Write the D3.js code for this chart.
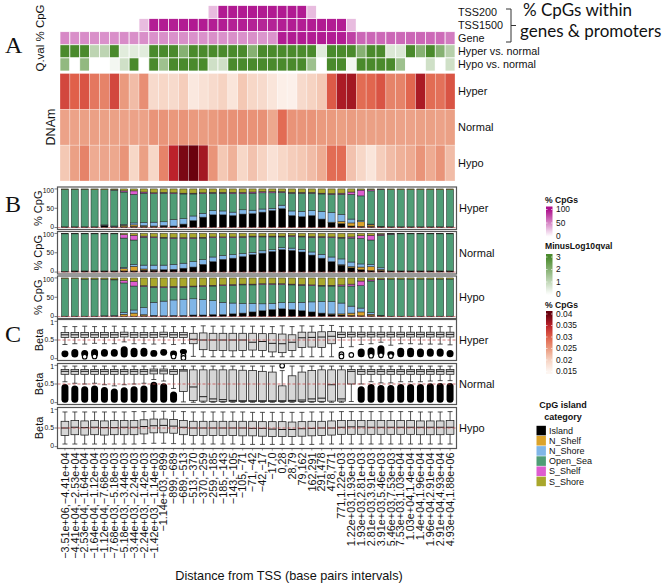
<!DOCTYPE html>
<html><head><meta charset="utf-8">
<script src="https://cdn.jsdelivr.net/npm/d3@7"></script>
<style>
body{margin:0;background:#fff}
svg{display:block}
text{font-family:"Liberation Sans",Arial,Helvetica,sans-serif;fill:#111}
</style></head>
<body><svg id="c" width="666" height="584"></svg>
<script>
// ---------------- DATA ----------------
const intervals = ["−3.51e+06,−4.41e+04","−4.41e+04,−2.53e+04","−2.53e+04,−1.64e+04","−1.64e+04,−1.12e+04","−1.12e+04,−7.68e+03","−7.68e+03,−5.18e+03","−5.18e+03,−3.44e+03","−3.44e+03,−2.24e+03","−2.24e+03,−1.42e+03","−1.42e+03,−1.14e+03","−1.14e+03,−899","−899,−689","−689,−513","−513,−370","−370,−259","−259,−185","−185,−143","−143,−105","−105,−71","−71,−42","−42,−17","−17,0","0,28","28,79","79,162","162,291","291,478","478,771","771,1.22e+03","1.22e+03,1.93e+03","1.93e+03,2.81e+03","2.81e+03,3.91e+03","3.91e+03,5.46e+03","5.46e+03,7.53e+03","7.53e+03,1.03e+04","1.03e+04,1.4e+04","1.4e+04,1.96e+04","1.96e+04,2.91e+04","2.91e+04,4.93e+04","4.93e+04,1.88e+06"];

// A: % CpG within genes & promoters
const cpgTSS200  = [0,0,0,0,0,0,0,0,0,0,0,0,0,0,0,28,96,96,96,96,96,96,96,96,96,28,0,0,0,0,0,0,0,0,0,0,0,0,0,0];
const cpgTSS1500 = [0,0,0,0,0,0,0,0,28,94,95,94,95,96,95,94,95,93,94,92,91,92,94,95,94,95,96,95,94,28,0,0,0,0,0,0,0,0,0,0];
const cpgGene    = [50,47,48,47,46,47,48,47,47,46,47,46,47,46,46,47,46,47,46,47,44,45,95,96,96,95,96,95,95,80,64,64,63,64,63,64,64,63,62,55];
// A: -log10 q-values
const qHyper = [3,3,3,1.1,1.1,3,0.5,0.5,0.5,3,3,3,2,3,3,3,3,3,3,2,3,3,3,3,3,3,0.5,3,3,3,2,3,3,0.6,0.6,3,2,3,2,1.2];
const qHypo  = [1.8,0,1.8,0,0,0.2,0.8,3,0,3,1.6,3,3,3,3,0.8,0.8,3,3,3,3,3,3,3,3,1.6,0,3,3,0.2,3,3,3,3,1.6,0,0,0.8,0,0.8];
// A: DNAm heat values
const dnamHyper  = [0.032,0.030,0.031,0.028,0.027,0.032,0.025,0.022,0.026,0.019,0.0195,0.019,0.0205,0.017,0.018,0.019,0.020,0.0175,0.021,0.0195,0.019,0.0175,0.016,0.0158,0.019,0.020,0.021,0.0305,0.036,0.0365,0.029,0.0295,0.031,0.027,0.027,0.0295,0.036,0.029,0.0285,0.031];
const dnamNormal = [0.0243,0.0243,0.0245,0.0245,0.0244,0.0244,0.0243,0.0243,0.0243,0.0255,0.0255,0.0252,0.0255,0.025,0.0248,0.025,0.0256,0.0258,0.026,0.0257,0.0258,0.0238,0.029,0.0256,0.0254,0.0255,0.025,0.025,0.0246,0.0248,0.0245,0.0245,0.0245,0.0245,0.0243,0.0243,0.0245,0.0245,0.0243,0.0245];
const dnamHypo   = [0.021,0.0245,0.027,0.0235,0.024,0.0238,0.0255,0.0195,0.0245,0.0195,0.027,0.035,0.0388,0.0398,0.0365,0.0255,0.021,0.023,0.0195,0.0215,0.020,0.018,0.0195,0.0205,0.021,0.022,0.0235,0.029,0.029,0.0215,0.0195,0.0175,0.0205,0.022,0.023,0.0235,0.0255,0.0235,0.0255,0.022];

// B: CpG island category composition (%)
const categories = ["Island","N_Shelf","N_Shore","Open_Sea","S_Shelf","S_Shore"];
const islandHyper  = [2,2,2,2,6,3,2,3,3,3,4,4,9,18,27,33,33,31,35,36,40,44,49,31,28,31,22,13,10,4,3,3,2,2,2,2,2,2,2,2];
const nShelfHyper  = [0,0,0,0,0,0,4,4,2,1,1,0,0,0,0,0,0,0,0,0,0,0,0,0,0,0,0,1,6,8,12,4,1,0,0,0,0,0,0,0];
const nShoreHyper  = [0,0,0,0,1,1,2,5,8,10,10,17,14,12,10,11,10,9,11,9,8,6,9,12,14,13,20,25,18,10,3,2,0,0,0,0,0,0,0,0];
const openSeaHyper = [97,97,97,96,91,93,84,74,76,74,74,67,64,57,51,45,46,48,42,44,42,40,33,46,47,45,45,47,52,64,64,86,95,96,96,96,96,96,96,96];
const sShelfHyper  = [0,0,0,0,0,1,3,9,3,2,2,2,2,2,2,2,2,3,3,3,3,3,2,2,2,2,2,2,3,6,15,3,1,0,0,0,0,0,0,0];
const sShoreHyper  = [1,1,1,2,2,2,5,5,8,10,9,10,11,11,10,9,9,9,9,8,7,7,7,9,9,9,11,12,11,8,3,2,1,2,2,2,2,2,2,2];

const islandNormal  = [2,3,3,3,3,3,3,3,5,5,6,7,10,13,20,27,33,36,40,45,49,53,58,56,52,44,36,27,18,11,6,4,4,3,3,3,3,3,3,3];
const nShelfNormal  = [0,0,0,0,0,0,6,12,3,1,0,0,0,0,0,0,0,0,0,0,0,0,0,0,0,0,0,0,1,3,7,10,3,0,0,0,0,0,0,0];
const nShoreNormal  = [0,0,0,0,0,0,3,5,10,12,12,13,13,14,12,12,10,9,8,6,6,5,5,6,7,8,10,12,15,12,8,6,4,0,0,0,0,0,0,0];
const openSeaNormal = [97,96,96,96,96,96,76,63,72,71,70,67,64,60,56,50,46,44,42,40,36,33,28,30,32,38,44,50,54,62,66,63,84,95,96,96,96,96,96,96];
const sShelfNormal  = [0,0,0,0,0,0,9,12,3,2,2,2,2,2,2,2,2,2,2,2,2,2,2,2,2,2,2,2,2,3,7,12,3,1,0,0,0,0,0,0];
const sShoreNormal  = [1,1,1,1,1,1,3,5,7,9,10,11,11,11,10,9,9,9,8,7,7,7,7,6,7,8,8,9,10,9,6,5,2,1,1,1,1,1,1,1];

const islandHypo  = [1,1,1,1,1,1,1,1,2,2,2,3,3,4,4,5,5,7,9,12,15,18,20,18,15,12,9,6,4,3,2,2,1,1,1,1,1,1,1,1];
const nShelfHypo  = [0,0,0,0,0,0,5,8,3,1,0,0,0,0,0,0,0,0,0,0,0,0,0,0,0,0,0,1,3,6,10,4,1,0,0,0,0,0,0,0];
const nShoreHypo  = [0,0,0,0,1,2,5,8,18,34,38,40,42,42,40,36,32,28,25,22,18,16,16,18,22,26,30,32,28,18,10,4,1,0,0,0,0,0,0,0];
const openSeaHypo = [97,97,96,96,95,92,76,62,55,39,35,33,31,31,34,38,43,46,48,48,50,49,47,46,44,42,40,40,44,52,58,82,93,96,96,96,96,96,96,96];
const sShelfHypo  = [0,0,0,0,0,1,6,12,2,2,2,2,2,2,2,2,2,2,2,2,2,2,2,2,2,2,2,2,3,5,12,3,1,0,0,0,0,0,0,0];
const sShoreHypo  = [2,2,3,3,3,4,7,9,20,22,23,22,22,21,20,19,18,17,16,16,15,15,15,16,17,18,19,19,18,16,8,5,3,3,3,3,3,3,3,3];

// C: Beta boxplots (whisker low, Q1, median, Q3, whisker high), extent of dense outlier clouds
const loHyper  = [0.38,0.40,0.39,0.41,0.40,0.40,0.45,0.40,0.40,0.39,0.40,0.38,0.40,0.06,0.05,0.05,0.05,0.05,0.05,0.05,0.05,0.05,0.05,0.05,0.05,0.05,0.05,0.05,0.30,0.32,0.38,0.40,0.44,0.36,0.40,0.40,0.39,0.39,0.39,0.37];
const q1Hyper  = [0.57,0.57,0.57,0.57,0.57,0.57,0.58,0.57,0.57,0.57,0.58,0.57,0.57,0.40,0.24,0.22,0.22,0.21,0.22,0.23,0.22,0.18,0.16,0.22,0.30,0.31,0.30,0.40,0.57,0.58,0.58,0.58,0.58,0.58,0.58,0.58,0.58,0.58,0.58,0.58];
const medHyper = [0.64,0.64,0.64,0.64,0.64,0.64,0.65,0.64,0.64,0.64,0.65,0.64,0.64,0.52,0.50,0.50,0.50,0.50,0.50,0.44,0.46,0.41,0.40,0.44,0.56,0.57,0.58,0.60,0.65,0.65,0.65,0.65,0.65,0.65,0.65,0.65,0.65,0.65,0.65,0.65];
const q3Hyper  = [0.70,0.70,0.70,0.70,0.70,0.70,0.71,0.70,0.70,0.70,0.71,0.70,0.70,0.68,0.69,0.68,0.68,0.68,0.68,0.68,0.67,0.67,0.66,0.64,0.71,0.71,0.72,0.73,0.71,0.71,0.71,0.71,0.71,0.71,0.71,0.71,0.71,0.71,0.71,0.71];
const hiHyper  = [0.86,0.86,0.87,0.86,0.86,0.87,0.86,0.86,0.86,0.86,0.87,0.86,0.86,0.86,0.88,0.87,0.87,0.87,0.87,0.87,0.87,0.86,0.88,0.86,0.88,0.87,0.89,0.89,0.86,0.86,0.86,0.86,0.86,0.86,0.86,0.86,0.86,0.86,0.86,0.86];
const cloudTopHyper = [0.22,0.26,0.23,0.26,0.26,0.26,0.33,0.29,0.29,0.23,0.26,0.22,0.26,null,null,null,null,null,null,null,null,null,null,null,null,null,null,null,null,null,0.27,0.30,0.36,0.20,0.29,0.29,0.27,0.27,0.27,0.23];
const cloudBotHyper = [0.04,0.03,0.04,0.03,0.05,0.05,0.03,0.04,0.05,0.05,0.08,0.04,0.12,null,null,null,null,null,null,null,null,null,null,null,null,null,null,null,null,null,0.04,0.04,0.06,0.05,0.04,0.04,0.04,0.05,0.05,0.04];
const pointsHyper = [[2,0.05],[3,0.06],[11,0.06],[12,0.08],[12,0.02],[28,0.12],[28,0.06],[29,0.10],[31,0.08],[32,0.09],[33,0.07]];

const loNormal  = [0.56,0.52,0.50,0.52,0.48,0.45,0.48,0.50,0.52,0.62,0.58,0.38,0.02,0.01,0.01,0.01,0.01,0.01,0.01,0.01,0.01,0.01,0.01,0.01,0.01,0.01,0.01,0.01,0.01,0.03,0.50,0.56,0.53,0.53,0.56,0.56,0.56,0.58,0.59,0.59];
const q1Normal  = [0.76,0.76,0.76,0.76,0.76,0.76,0.76,0.76,0.76,0.77,0.77,0.76,0.30,0.06,0.04,0.03,0.03,0.03,0.03,0.03,0.03,0.03,0.03,0.03,0.03,0.03,0.03,0.04,0.04,0.50,0.76,0.76,0.76,0.76,0.76,0.76,0.76,0.76,0.76,0.76];
const medNormal = [0.84,0.84,0.84,0.84,0.84,0.84,0.84,0.84,0.84,0.85,0.85,0.84,0.85,0.42,0.16,0.10,0.08,0.06,0.05,0.05,0.05,0.05,0.05,0.06,0.07,0.10,0.12,0.48,0.10,0.84,0.84,0.84,0.84,0.84,0.84,0.84,0.84,0.84,0.84,0.84];
const q3Normal  = [0.89,0.89,0.89,0.89,0.89,0.89,0.89,0.89,0.89,0.90,0.90,0.89,0.89,0.88,0.88,0.88,0.88,0.88,0.87,0.86,0.84,0.82,0.45,0.72,0.82,0.86,0.88,0.88,0.88,0.89,0.89,0.89,0.89,0.89,0.89,0.89,0.89,0.89,0.89,0.89];
const hiNormal  = [0.98,0.98,0.98,0.98,0.98,0.98,0.98,0.98,0.98,0.98,0.98,0.98,0.98,0.98,0.98,0.98,0.98,0.98,0.98,0.98,0.98,0.98,0.86,0.98,0.98,0.98,0.98,0.98,0.98,0.98,0.98,0.98,0.98,0.98,0.98,0.98,0.98,0.98,0.98,0.98];
const cloudTopNormal = [0.50,0.46,0.44,0.46,0.42,0.38,0.41,0.44,0.46,0.56,0.52,0.30,null,null,null,null,null,null,null,null,null,null,null,null,null,null,null,null,null,null,0.44,0.50,0.47,0.47,0.50,0.50,0.50,0.52,0.53,0.53];
const cloudBotNormal = [0.0,0.0,0.0,0.0,0.0,0.0,0.0,0.0,0.0,0.0,0.0,0.0,null,null,null,null,null,null,null,null,null,null,null,null,null,null,null,null,null,null,0.0,0.0,0.0,0.0,0.0,0.0,0.0,0.0,0.0,0.0];
const pointsNormal = [[22,0.99]];

const loHypo  = [0.07,0.07,0.07,0.07,0.07,0.07,0.07,0.07,0.08,0.09,0.09,0.08,0.07,0.07,0.07,0.07,0.07,0.07,0.06,0.06,0.06,0.06,0.06,0.06,0.06,0.06,0.07,0.07,0.07,0.07,0.07,0.07,0.07,0.07,0.07,0.07,0.07,0.07,0.07,0.07];
const q1Hypo  = [0.30,0.32,0.31,0.32,0.31,0.32,0.32,0.32,0.34,0.37,0.37,0.36,0.32,0.30,0.30,0.30,0.30,0.30,0.29,0.29,0.28,0.27,0.27,0.27,0.28,0.29,0.30,0.31,0.33,0.33,0.33,0.33,0.33,0.33,0.33,0.33,0.32,0.32,0.32,0.33];
const medHypo = [0.50,0.52,0.51,0.52,0.51,0.51,0.52,0.52,0.54,0.56,0.57,0.55,0.52,0.50,0.50,0.50,0.50,0.50,0.50,0.49,0.49,0.47,0.46,0.46,0.48,0.49,0.50,0.50,0.52,0.53,0.53,0.52,0.52,0.52,0.52,0.52,0.52,0.52,0.52,0.52];
const q3Hypo  = [0.68,0.70,0.69,0.70,0.69,0.70,0.70,0.70,0.72,0.74,0.74,0.73,0.70,0.68,0.68,0.68,0.68,0.68,0.68,0.68,0.67,0.67,0.67,0.66,0.67,0.68,0.68,0.69,0.70,0.70,0.70,0.70,0.70,0.70,0.70,0.70,0.69,0.69,0.69,0.70];
const hiHypo  = [0.93,0.93,0.93,0.93,0.93,0.93,0.93,0.94,0.94,0.95,0.95,0.95,0.94,0.93,0.93,0.93,0.93,0.93,0.93,0.92,0.92,0.92,0.92,0.92,0.92,0.93,0.93,0.93,0.94,0.94,0.94,0.94,0.94,0.94,0.94,0.94,0.93,0.93,0.93,0.94];

// legend ticks
const cpgTicks = [100,50,0];
const qTicks = [3,2,1,0];
const dnamTicks = [0.04,0.035,0.03,0.025,0.02,0.015];
const catColors = ["#000000","#dba32b","#80b6e7","#4f9d76","#de5cd0","#a9a72c"];

// ---------------- DRAW ----------------
const svg = d3.select("#c");
const defs = svg.append("defs");
const n = intervals.length;
const xBand = d3.scaleBand().domain(d3.range(n)).range([60,455]);
const xBar = d3.scaleBand().domain(d3.range(n)).range([60,455]).paddingInner(0.28).paddingOuter(0.14);
const xBox = d3.scaleBand().domain(d3.range(n)).range([60,455]).paddingInner(0.22).paddingOuter(0.11);

const cpgColor = d3.scaleLinear().domain([0,100]).range(["#ffffff","#ae108d"]).clamp(true);
const qColor = d3.scaleLinear().domain([0,3]).range(["#ffffff","#4a8a2c"]).clamp(true);
const dnamColor = d3.scaleLinear().domain([0.015,0.02,0.025,0.03,0.035,0.04])
  .range(["#fdf6f2","#f6d3c2","#ea9a7e","#e0604a","#bc222b","#67000d"]).clamp(true);

// Panel letters
[["A",53],["B",212],["C",342]].forEach(([t,y])=>{
  svg.append("text").attr("x",5).attr("y",y).text(t)
    .style("font-family","'Liberation Serif','Times New Roman',serif").style("font-size","24px");
});

// --- A: annotation heatmap
const annRows = [
  {label:"TSS200", vals:cpgTSS200, col:cpgColor},
  {label:"TSS1500", vals:cpgTSS1500, col:cpgColor},
  {label:"Gene", vals:cpgGene, col:cpgColor},
  {label:"Hyper vs. normal", vals:qHyper, col:qColor},
  {label:"Hypo vs. normal", vals:qHypo, col:qColor}];
const yAnn = d3.scaleBand().domain(annRows.map(d=>d.label)).range([5.5,71]);
annRows.forEach(r=>{
  svg.append("g").selectAll("rect").data(r.vals).join("rect")
    .attr("x",(d,i)=>xBand(i)).attr("y",yAnn(r.label))
    .attr("width",xBand.bandwidth()).attr("height",yAnn.bandwidth())
    .attr("fill",d=>r.col(d)).attr("stroke","#fff").attr("stroke-width",0.7);
  svg.append("text").attr("x",458).attr("y",yAnn(r.label)+yAnn.bandwidth()/2).attr("dy","0.35em")
    .style("font-size","10.8px").text(r.label);
});
const dRows = [{label:"Hyper",vals:dnamHyper},{label:"Normal",vals:dnamNormal},{label:"Hypo",vals:dnamHypo}];
const yD = d3.scaleBand().domain(dRows.map(d=>d.label)).range([73.5,181]);
dRows.forEach(r=>{
  svg.append("g").selectAll("rect").data(r.vals).join("rect")
    .attr("x",(d,i)=>xBand(i)).attr("y",yD(r.label))
    .attr("width",xBand.bandwidth()).attr("height",yD.bandwidth())
    .attr("fill",d=>dnamColor(d)).attr("stroke","#fff").attr("stroke-width",0.5).attr("stroke-opacity",0.55);
  svg.append("text").attr("x",458).attr("y",yD(r.label)+yD.bandwidth()/2).attr("dy","0.35em")
    .style("font-size","11px").text(r.label);
});
svg.append("text").attr("transform","translate(43.5,38) rotate(-90)").attr("text-anchor","middle")
  .style("font-size","11.5px").text("Q.val % CpG");
svg.append("text").attr("transform","translate(54.5,127) rotate(-90)").attr("text-anchor","middle")
  .style("font-size","12.5px").text("DNAm");
// bracket + note
svg.append("path").attr("d","M506,9H511V42H506M511,25.5H516").attr("fill","none").attr("stroke","#333").attr("stroke-width",1);
svg.append("text").attr("x",523).attr("y",16).style("font-family","Lato,'Open Sans',sans-serif").style("font-size","17px").text("% CpGs within");
svg.append("text").attr("x",520).attr("y",37).style("font-family","Lato,'Open Sans',sans-serif").style("font-size","17px").text("genes & promoters");

// tick label helper: nudge the extreme labels inward so neighbouring panels' labels do not collide
function tickLabel(g, yPos, txt, nudge){
  g.append("text").attr("x",54).attr("y",yPos+nudge).attr("dy","0.35em").attr("text-anchor","end")
   .style("font-size","6.8px").text(txt);
}

// --- B: stacked bars
const barPanels = [
  {label:"Hyper", top:187, cols:[islandHyper,nShelfHyper,nShoreHyper,openSeaHyper,sShelfHyper,sShoreHyper]},
  {label:"Normal", top:231.5, cols:[islandNormal,nShelfNormal,nShoreNormal,openSeaNormal,sShelfNormal,sShoreNormal]},
  {label:"Hypo", top:276, cols:[islandHypo,nShelfHypo,nShoreHypo,openSeaHypo,sShelfHypo,sShoreHypo]}];
const bH = 42.5;
barPanels.forEach(p=>{
  const y = d3.scaleLinear().domain([-5,105]).range([p.top+bH,p.top]);
  const rows = d3.range(n).map(i=>{const o={i}; categories.forEach((c,k)=>o[c]=p.cols[k][i]); return o;});
  const stacked = d3.stack().keys(categories)(rows);
  const g = svg.append("g");
  stacked.forEach((s,k)=>{
    g.append("g").selectAll("rect").data(s).join("rect")
      .attr("x",d=>xBar(d.data.i)).attr("width",xBar.bandwidth())
      .attr("y",d=>y(d[1])).attr("height",d=>Math.max(0,y(d[0])-y(d[1])))
      .attr("fill",catColors[k]).attr("stroke","#222").attr("stroke-width",0.5);
  });
  g.append("line").attr("x1",57.5).attr("x2",456.5).attr("y1",y(0)).attr("y2",y(0))
    .attr("stroke","#c84a4a").attr("stroke-width",0.8).attr("stroke-dasharray","3,2").attr("opacity",0.8);
  g.append("rect").attr("x",57.5).attr("y",p.top).attr("width",399).attr("height",bH)
    .attr("fill","none").attr("stroke","#555").attr("stroke-width",1.2);
  [[100,1.3],[50,0],[0,-1.3]].forEach(([v,nd])=>{
    g.append("line").attr("x1",54.5).attr("x2",57.5).attr("y1",y(v)).attr("y2",y(v)).attr("stroke","#444").attr("stroke-width",0.7);
    tickLabel(g, y(v), v, nd);
  });
  g.append("text").attr("transform",`translate(41.5,${p.top+bH/2}) rotate(-90)`).attr("text-anchor","middle")
    .style("font-size","11px").text("% CpG");
  g.append("text").attr("x",459).attr("y",p.top+bH/2).attr("dy","0.35em").style("font-size","11px").text(p.label);
});

// --- C: boxplots
const boxPanels = [
  {label:"Hyper", top:319.5, lo:loHyper,q1:q1Hyper,med:medHyper,q3:q3Hyper,hi:hiHyper,ct:cloudTopHyper,cb:cloudBotHyper,pts:pointsHyper},
  {label:"Normal", top:363.5, lo:loNormal,q1:q1Normal,med:medNormal,q3:q3Normal,hi:hiNormal,ct:cloudTopNormal,cb:cloudBotNormal,pts:pointsNormal},
  {label:"Hypo", top:407.5, lo:loHypo,q1:q1Hypo,med:medHypo,q3:q3Hypo,hi:hiHypo,ct:null,cb:null,pts:[]}];
const cH = 41;
boxPanels.forEach(p=>{
  const y = d3.scaleLinear().domain([-0.05,1.05]).range([p.top+cH,p.top]);
  const g = svg.append("g");
  const bw = xBox.bandwidth(), cap = 5;
  d3.range(n).forEach(i=>{
    const cx = xBox(i)+bw/2;
    const gg = g.append("g").attr("stroke","#1a1a1a").attr("stroke-width",0.75);
    gg.append("line").attr("x1",cx).attr("x2",cx).attr("y1",y(p.hi[i])).attr("y2",y(p.lo[i]));
    gg.append("line").attr("x1",cx-cap/2).attr("x2",cx+cap/2).attr("y1",y(p.hi[i])).attr("y2",y(p.hi[i]));
    gg.append("line").attr("x1",cx-cap/2).attr("x2",cx+cap/2).attr("y1",y(p.lo[i])).attr("y2",y(p.lo[i]));
    gg.append("rect").attr("x",xBox(i)).attr("width",bw).attr("y",y(p.q3[i])).attr("height",y(p.q1[i])-y(p.q3[i]))
      .attr("fill","#d6d6d6");
    gg.append("line").attr("x1",xBox(i)).attr("x2",xBox(i)+bw).attr("y1",y(p.med[i])).attr("y2",y(p.med[i])).attr("stroke-width",1);
    if(p.ct && p.ct[i]!==null){
      const h = y(p.cb[i])-y(p.ct[i]);
      g.append("rect").attr("x",cx-3.5).attr("width",7).attr("y",y(p.ct[i]))
        .attr("height",h).attr("rx",Math.min(3.5,h/2)).attr("fill","#000");
    }
  });
  p.pts.forEach(([i,v])=>{
    g.append("circle").attr("cx",xBox(i)+bw/2).attr("cy",y(v)).attr("r",2.3)
      .attr("fill","#fff").attr("stroke","#000").attr("stroke-width",1.1);
  });
  g.append("line").attr("x1",57.5).attr("x2",456.5).attr("y1",y(0.5)).attr("y2",y(0.5))
    .attr("stroke","#c84a4a").attr("stroke-width",0.9).attr("stroke-dasharray","3,2").attr("opacity",0.85);
  g.append("rect").attr("x",57.5).attr("y",p.top).attr("width",399).attr("height",cH)
    .attr("fill","none").attr("stroke","#555").attr("stroke-width",1.2);
  [[1,"1",1.3],[0.5,"0.5",0],[0,"0",-1.3]].forEach(([v,t,nd])=>{
    g.append("line").attr("x1",54.5).attr("x2",57.5).attr("y1",y(v)).attr("y2",y(v)).attr("stroke","#444").attr("stroke-width",0.7);
    tickLabel(g, y(v), t, nd);
  });
  g.append("text").attr("transform",`translate(43,${p.top+cH/2}) rotate(-90)`).attr("text-anchor","middle")
    .style("font-size","11px").text("Beta");
  g.append("text").attr("x",459).attr("y",p.top+cH/2).attr("dy","0.35em").style("font-size","11px").text(p.label);
});

// x-axis labels
const xl = svg.append("g");
intervals.forEach((t,i)=>{
  const cx = xBand(i)+xBand.bandwidth()/2;
  xl.append("line").attr("x1",cx).attr("x2",cx).attr("y1",448.5).attr("y2",450.5).attr("stroke","#444").attr("stroke-width",0.6);
  xl.append("text").attr("transform",`translate(${cx},452.5) rotate(-90)`).attr("text-anchor","end").attr("dy","0.35em")
    .style("font-size","10.8px").text(t);
});
svg.append("text").attr("x",289).attr("y",580).attr("text-anchor","middle").style("font-size","12.7px")
  .text("Distance from TSS (base pairs intervals)");

// --- Legends
function colourbar(id, title, titleY, colorScale, vTop, vBot, yTop, yBot, ticks, barTop, barBot){
  const yv = d3.scaleLinear().domain([vBot,vTop]).range([yBot,yTop]);
  const grad = defs.append("linearGradient").attr("id",id).attr("x1",0).attr("y1",0).attr("x2",0).attr("y2",1);
  d3.range(0,21).forEach(k=>{ const t=k/20; grad.append("stop").attr("offset",t).attr("stop-color",colorScale(yv.invert(barTop+t*(barBot-barTop)))); });
  svg.append("text").attr("x",545).attr("y",titleY).style("font-size","8.6px").style("font-weight","bold").text(title);
  svg.append("rect").attr("x",546).attr("y",barTop).attr("width",6.5).attr("height",barBot-barTop).attr("fill",`url(#${id})`);
  ticks.forEach(v=>{
    svg.append("line").attr("x1",546).attr("x2",547.5).attr("y1",yv(v)).attr("y2",yv(v)).attr("stroke","#fff").attr("stroke-width",0.6);
    svg.append("line").attr("x1",551).attr("x2",552.5).attr("y1",yv(v)).attr("y2",yv(v)).attr("stroke","#fff").attr("stroke-width",0.6);
    svg.append("text").attr("x",556).attr("y",yv(v)).attr("dy","0.35em").style("font-size","8.4px").text(v);
  });
}
colourbar("gCpg","% CpGs",203,cpgColor,100,0,209.5,236.5,cpgTicks,206.5,239.5);
colourbar("gQ","MinusLog10qval",249,qColor,3,0,257,294.5,qTicks,254,297.5);
colourbar("gD","% CpGs",307.5,dnamColor,0.04,0.015,314,371.5,dnamTicks,311,374);

svg.append("text").attr("x",563).attr("y",408).attr("text-anchor","middle").style("font-size","9px").style("font-weight","bold").text("CpG island");
svg.append("text").attr("x",563).attr("y",420).attr("text-anchor","middle").style("font-size","9px").style("font-weight","bold").text("category");
const yKey = d3.scaleBand().domain(categories).range([425.5,486.5]);
categories.forEach((c,k)=>{
  svg.append("rect").attr("x",536.5).attr("y",yKey(c)+0.3).attr("width",9.4).attr("height",yKey.bandwidth()-0.6).attr("fill",catColors[k]);
  svg.append("text").attr("x",549).attr("y",yKey(c)+yKey.bandwidth()/2).attr("dy","0.35em").style("font-size","9px").text(c);
});
</script>
</body></html>
